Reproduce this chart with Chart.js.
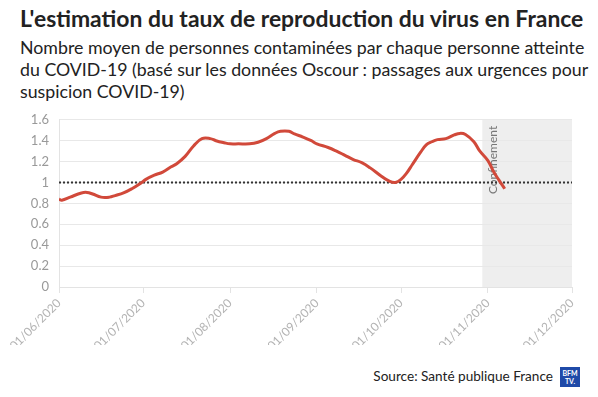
<!DOCTYPE html>
<html>
<head>
<meta charset="utf-8">
<script src="https://cdn.jsdelivr.net/npm/chart.js@4/dist/chart.umd.min.js"></script>
<style>
  html,body{margin:0;padding:0;background:#fff;}
  body{width:598px;height:397px;position:relative;overflow:hidden;font-family:Lato,"Open Sans",sans-serif;}
  #title{position:absolute;left:20px;top:4px;font-weight:bold;font-size:22.9px;color:#222;white-space:nowrap;}
  #subtitle{position:absolute;left:20px;top:36px;font-size:17.75px;line-height:22px;color:#222;white-space:nowrap;}
  #wrap{position:absolute;left:0;top:102px;width:590px;height:243px;}
  #source{position:absolute;right:45px;top:368px;font-size:13.6px;color:#222;white-space:nowrap;}
  #logo{position:absolute;left:560px;top:367px;width:20px;height:20px;background:#1f4aa8;color:#fff;font-size:7px;font-weight:bold;line-height:8px;text-align:center;padding-top:2px;box-sizing:border-box;}
</style>
</head>
<body>
<div id="title">L'estimation du taux de reproduction du virus en France</div>
<div id="subtitle">Nombre moyen de personnes contaminées par chaque personne atteinte<br>du COVID-19 (basé sur les données Oscour : passages aux urgences pour<br>suspicion COVID-19)</div>
<div id="wrap"><canvas id="c"></canvas></div>
<div id="source">Source: Santé publique France</div>
<div id="logo">BFM<br>TV.</div>
<script>
// ---- data ----
const dates = ["2020-06-01","2020-06-02","2020-06-05","2020-06-09","2020-06-11","2020-06-13","2020-06-16","2020-06-19","2020-06-21","2020-06-24","2020-06-27","2020-06-30",
"2020-07-02","2020-07-05","2020-07-08","2020-07-11","2020-07-13","2020-07-16","2020-07-19","2020-07-22","2020-07-25","2020-07-27","2020-07-30",
"2020-08-01","2020-08-04","2020-08-08","2020-08-11","2020-08-14","2020-08-17","2020-08-19","2020-08-22","2020-08-24","2020-08-27","2020-08-30",
"2020-09-01","2020-09-05","2020-09-08","2020-09-11","2020-09-14","2020-09-17","2020-09-20","2020-09-24","2020-09-27","2020-09-29",
"2020-10-01","2020-10-03","2020-10-05","2020-10-08","2020-10-10","2020-10-12","2020-10-14","2020-10-17","2020-10-20","2020-10-22","2020-10-24","2020-10-27","2020-10-29",
"2020-11-01","2020-11-03","2020-11-05","2020-11-07"];
const rValues = [0.84,0.83,0.86,0.90,0.905,0.89,0.86,0.86,0.875,0.90,0.94,0.99,
1.03,1.07,1.10,1.15,1.18,1.25,1.35,1.42,1.42,1.40,1.38,
1.37,1.37,1.37,1.385,1.42,1.47,1.49,1.49,1.465,1.435,1.40,
1.37,1.335,1.30,1.26,1.22,1.19,1.14,1.06,1.01,1.00,
1.03,1.09,1.17,1.29,1.36,1.39,1.41,1.42,1.455,1.47,1.46,1.39,1.305,
1.21,1.105,1.02,0.94];
const xTickLabels = ["01/06/2020","01/07/2020","01/08/2020","01/09/2020","01/10/2020","01/11/2020","01/12/2020"];
const yTicks = [0,0.2,0.4,0.6,0.8,1,1.2,1.4,1.6];
const threshold = 1;
const confinementStart = "2020-10-30";
const confinementEnd = "2020-12-01";
const confinementLabel = "Confinement";

// ---- helpers ----
const DAY = 86400000;
const origin = Date.UTC(2020,5,1);
function dayOfIso(s){const [y,m,d]=s.split('-').map(Number);return (Date.UTC(y,m-1,d)-origin)/DAY;}
function dayOfFr(s){const [d,m,y]=s.split('/').map(Number);return (Date.UTC(y,m-1,d)-origin)/DAY;}
const tickDays = xTickLabels.map(dayOfFr);
const xMin = tickDays[0], xMax = tickDays[tickDays.length-1];

const shadePlugin = {
  id:'shade',
  beforeDraw(chart){
    const {ctx, chartArea, scales} = chart;
    const x0 = scales.x.getPixelForValue(dayOfIso(confinementStart));
    const x1 = scales.x.getPixelForValue(dayOfIso(confinementEnd));
    ctx.save();
    ctx.fillStyle = '#eeeeee';
    ctx.fillRect(x0, chartArea.top, x1-x0, chartArea.bottom-chartArea.top);
    ctx.restore();
  },
  beforeDatasetsDraw(chart){
    const {ctx, chartArea, scales} = chart;
    const x0 = scales.x.getPixelForValue(dayOfIso(confinementStart));
    ctx.save();
    ctx.translate(x0+11, chartArea.top+6);
    ctx.rotate(-Math.PI/2);
    ctx.font = '12px Lato, "Open Sans", sans-serif';
    ctx.fillStyle = '#777';
    ctx.textAlign = 'right';
    ctx.textBaseline = 'middle';
    ctx.fillText(confinementLabel, 0, 0);
    ctx.restore();
  }
};

new Chart(document.getElementById('c'), {
  type:'line',
  data:{
    datasets:[
      {
        data: dates.map((d,i)=>({x:dayOfIso(d), y:rValues[i]})),
        borderColor:'#d1493a',
        borderWidth:3,
        pointRadius:0,
        tension:0.4,
        fill:false,
        order:1
      },
      {
        data:[{x:xMin,y:threshold},{x:xMax,y:threshold}],
        borderColor:'#333',
        borderWidth:2,
        borderDash:[2,2],
        pointRadius:0,
        fill:false,
        order:2
      }
    ]
  },
  options:{
    responsive:true,
    maintainAspectRatio:false,
    animation:false,
    layout:{padding:{top:2,right:18,left:0,bottom:0}},
    plugins:{legend:{display:false},tooltip:{enabled:false}},
    scales:{
      x:{
        type:'linear',
        min:xMin, max:xMax,
        afterBuildTicks(scale){ scale.ticks = tickDays.map(v=>({value:v})); },
        afterFit(scale){ scale.height = 58; },
        grid:{drawOnChartArea:false, tickLength:6, color:'#e3e3e3'},
        border:{color:'#e3e3e3'},
        ticks:{
          autoSkip:false, maxRotation:45, minRotation:45,
          color:'#b3b3b3', font:{size:12, family:'Lato, "Open Sans", sans-serif'},
          callback(v){ const i = tickDays.indexOf(v); return i>=0 ? xTickLabels[i] : ''; }
        }
      },
      y:{
        min:0, max:1.6,
        afterBuildTicks(scale){ scale.ticks = yTicks.map(v=>({value:v})); },
        afterFit(scale){ scale.width = 59; },
        grid:{color:'#e8e8e8', drawTicks:false},
        border:{color:'#e3e3e3'},
        ticks:{
          color:'#999', padding:10, font:{size:13, family:'Lato, "Open Sans", sans-serif'},
          callback(v){ return String(Math.round(v*10)/10); }
        }
      }
    }
  },
  plugins:[shadePlugin]
});
</script>
</body>
</html>
